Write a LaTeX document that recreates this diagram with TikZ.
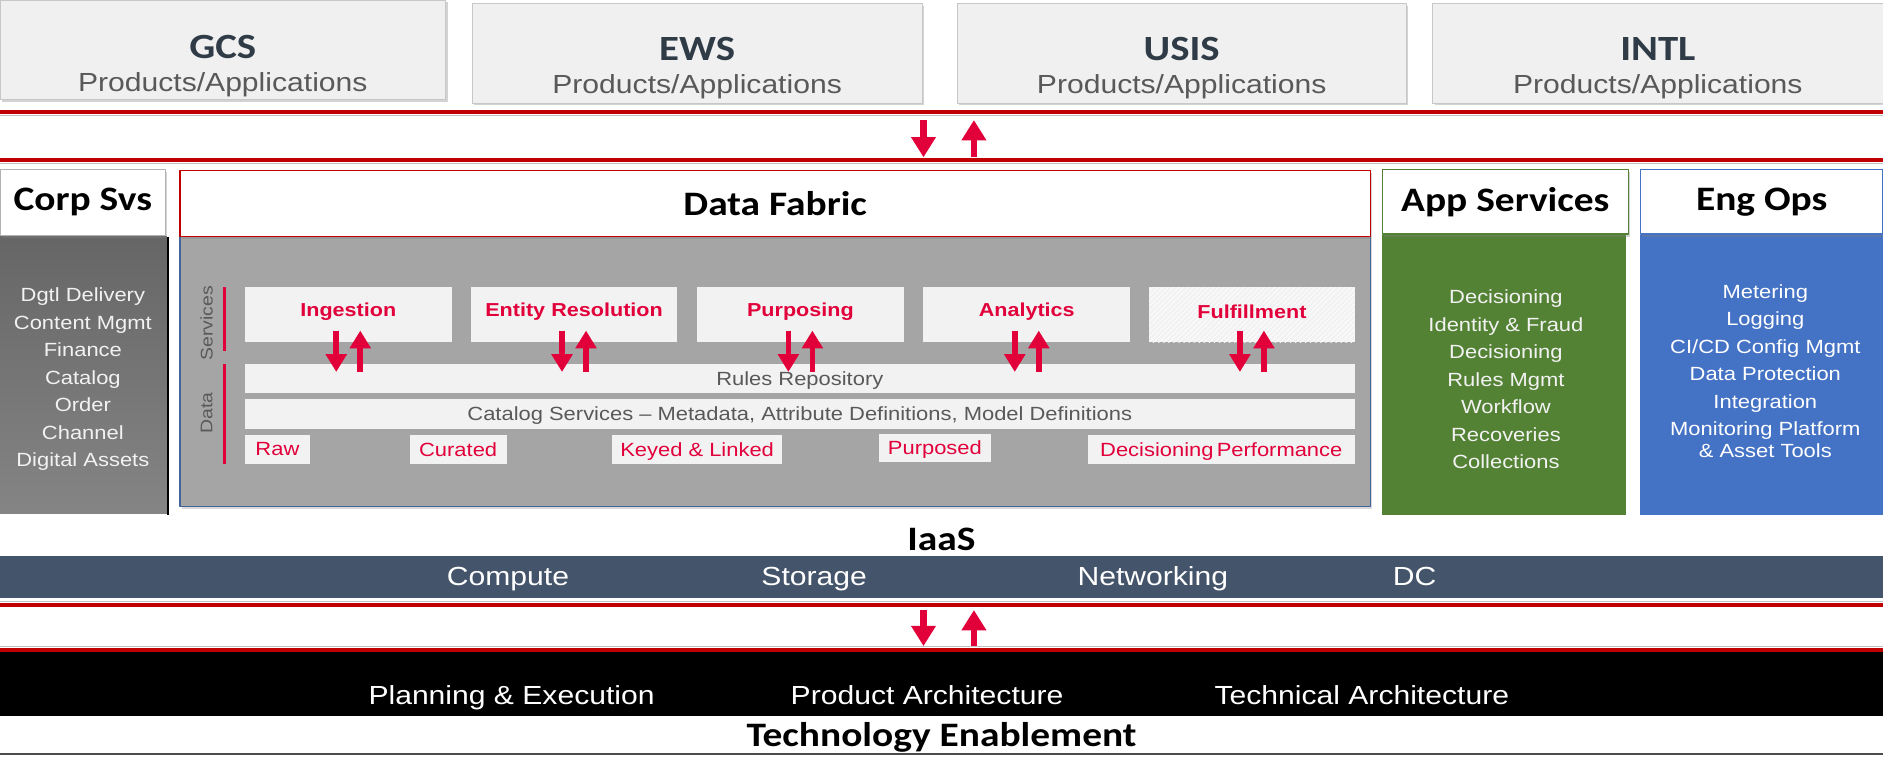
\documentclass[tikz,border=0pt]{standalone}
\usepackage{fontspec}
\setmainfont{Liberation Sans}[FakeStretch=1.15]
\newfontfamily\calfont{Carlito}[FakeStretch=1.15]
\usetikzlibrary{arrows.meta,calc,shadows,patterns}
\definecolor{darkred}{HTML}{C00000}
\definecolor{crim}{HTML}{E2003B}
\definecolor{slate}{HTML}{2F3B46}
\definecolor{txtgray}{HTML}{595959}
\definecolor{boxgray}{HTML}{F0F0F0}
\definecolor{fabgray}{HTML}{A5A5A5}
\definecolor{fabedge}{HTML}{41649A}
\definecolor{appgreen}{HTML}{548235}
\definecolor{engblue}{HTML}{4472C4}
\definecolor{iaasband}{HTML}{44546A}
\definecolor{lightbar}{HTML}{F2F2F2}
\newcommand\tpfont{\calfont\bfseries\fontsize{21}{24}\selectfont}
\newcommand\hdfont{\calfont\bfseries\fontsize{20.3}{24}\selectfont}
\newcommand\midfont{\fontsize{15.5}{18}\selectfont}
\newcommand\smfont{\fontsize{11.3}{16.3}\selectfont}
\newcommand\svfont{\bfseries\fontsize{11.1}{13}\selectfont}
\begin{document}
\begin{tikzpicture}[x=0.025cm,y=-0.025cm,line join=round,
    wh/.style 2 args={minimum width=#1*0.025cm,minimum height=#2*0.025cm},
    topbox/.style={draw=black!22,fill=boxgray,inner sep=0pt,
      drop shadow={shadow xshift=1.2pt,shadow yshift=-1.2pt,opacity=.35}},
    toptitle/.style={font=\tpfont,text=slate,inner sep=0pt},
    topsub/.style={font=\midfont,text=txtgray,inner sep=0pt},
    coltitle/.style={fill=white,font=\hdfont,inner sep=0pt,line width=.8pt,
      drop shadow={shadow xshift=1pt,shadow yshift=-1.5pt,opacity=.35}},
    colbody/.style={inner sep=0pt},
    items/.style={font=\smfont,align=center,inner sep=0pt},
    svcbox/.style={fill=lightbar,inner sep=0pt},
    svclabel/.style={font=\svfont,text=crim,inner sep=0pt},
    bar/.style={fill=lightbar,inner sep=0pt,font=\smfont,text=txtgray,text depth=0pt},
    stagebox/.style={fill=lightbar,inner sep=0pt,font=\smfont,text=crim,text depth=0pt},
    sidelabel/.style={rotate=90,font=\fontsize{10}{12}\selectfont,text=txtgray,inner sep=0pt},
    redrule/.style={draw=darkred,line width=2.4pt},
    ruleshade/.style={draw=black!25,line width=.6pt},
    bigflow/.style={draw=crim,line width=3.8pt,-{Triangle[width=14pt,length=12pt]}},
    flow/.style={draw=crim,line width=3.4pt,-{Triangle[width=12pt,length=10.5pt]}},
    bandtxt/.style={font=\midfont,text=white,inner sep=0pt,text depth=0pt}]
  \useasboundingbox (0,0) rectangle (1568,630);

  \node[topbox,wh={371}{83}] (gcs) at (185.5,41.5) {};
  \node[topbox,wh={375}{83}] (ews) at (580.5,44.5) {};
  \node[topbox,wh={374}{83}] (usis) at (984,44.5) {};
  \node[topbox,wh={375}{83}] (intl) at (1380.5,44.5) {};
  \node[toptitle] (gcs-t) at (185.5,39.5) {GCS};
  \node[toptitle] (ews-t) at (580.5,40.5) {EWS};
  \node[toptitle] (usis-t) at (984,40.5) {USIS};
  \node[toptitle] (intl-t) at (1380.5,40.5) {INTL};
  \node[topsub] (gcs-s) at (185.5,70.5) {Products/Applications};
  \node[topsub] (ews-s) at (580.5,72) {Products/Applications};
  \node[topsub] (usis-s) at (984,72) {Products/Applications};
  \node[topsub] (intl-s) at (1380.5,72) {Products/Applications};

  \draw[redrule] (0,93) -- (1568,93);
  \draw[ruleshade] (0,96) -- (1568,96);
  \draw[redrule] (0,133) -- (1568,133);
  \draw[ruleshade] (0,136) -- (1568,136);
  \coordinate (ta1) at (769,100);
  \coordinate (ta2) at (769,131);
  \coordinate (tb1) at (811,131);
  \coordinate (tb2) at (811,100);
  \draw[bigflow] (ta1) -- (ta2);
  \draw[bigflow] (tb1) -- (tb2);

  \node[colbody,top color=black!60,bottom color=black!48,wh={139}{231}] (corp-b) at (69.5,312.5) {};
  \draw[black,line width=1.2pt] (140,197) -- (140,429);
  \node[coltitle,draw=black!30,wh={138}{55}] (corp) at (69,168.5) {Corp Svs};
  \node[items,text=lightbar] (corp-i) at (69,316) {Dgtl Delivery\\Content Mgmt\\Finance\\Catalog\\Order\\Channel\\Digital Assets};

  \node[colbody,fill=fabgray,draw=fabedge,line width=.8pt,wh={991}{225},
    drop shadow={shadow xshift=1pt,shadow yshift=-1.5pt,opacity=.3}] (fab-b) at (645.5,309.5) {};
  \node[coltitle,draw=darkred,wh={991}{55}] (fab) at (645.5,169.5) {Data Fabric};

  \node[colbody,fill=appgreen,wh={203}{233}] (app-b) at (1252.5,312.5) {};
  \node[coltitle,draw=appgreen,wh={205}{54}] (app) at (1253.5,168) {App Services};
  \node[items,text=lightbar] (app-i) at (1254,316) {Decisioning\\Identity \& Fraud\\Decisioning\\Rules Mgmt\\Workflow\\Recoveries\\Collections};

  \node[colbody,fill=engblue,wh={202}{233}] (eng-b) at (1467,312.5) {};
  \node[coltitle,draw=engblue,wh={202}{54}] (eng) at (1467,168) {Eng Ops};
  \node[items,text=white] (eng-i) at (1470,309) {Metering\\Logging\\CI/CD Config Mgmt\\Data Protection\\Integration\\Monitoring Platform\\[-3.5pt]\& Asset Tools};

  \node[sidelabel] (svc) at (172,269) {Services};
  \node[sidelabel] (dat) at (172,344) {Data};
  \draw[crim,line width=1.6pt] (187,239) -- (187,292);
  \draw[crim,line width=1.6pt] (187,303) -- (187,386);

  \node[svcbox,wh={172}{46}] (ing) at (290,262) {};
  \node[svcbox,wh={172}{46}] (ent) at (478,262) {};
  \node[svcbox,wh={173}{46}] (pur) at (666.5,262) {};
  \node[svcbox,wh={172}{46}] (ana) at (855,262) {};
  \node[svcbox,wh={171}{46},postaction={pattern=north east lines,pattern color=white}] (ful) at (1042.5,262) {};
  \node[svclabel] (ing-l) at (290,259.5) {Ingestion};
  \node[svclabel] (ent-l) at (478,259.5) {Entity\,\,Resolution};
  \node[svclabel] (pur-l) at (666.5,259.5) {Purposing};
  \node[svclabel] (ana-l) at (855,259.5) {Analytics};
  \node[svclabel] (ful-l) at (1042.5,259.5) {Fulfillment};

  \node[bar,wh={924}{24}] (rules) at (666,315) {Rules Repository};
  \node[bar,wh={924}{25}] (cat) at (666,344.5) {Catalog Services -- Metadata, Attribute Definitions, Model Definitions};

  \draw[flow] ($(ing.south)+(-10,-10)$) -- ($(ing.south |- rules.north)+(-10,7)$);
  \draw[flow] ($(ing.south |- rules.north)+(10,7)$) -- ($(ing.south)+(10,-10)$);
  \draw[flow] ($(ent.south)+(-10,-10)$) -- ($(ent.south |- rules.north)+(-10,7)$);
  \draw[flow] ($(ent.south |- rules.north)+(10,7)$) -- ($(ent.south)+(10,-10)$);
  \draw[flow] ($(pur.south)+(-10,-10)$) -- ($(pur.south |- rules.north)+(-10,7)$);
  \draw[flow] ($(pur.south |- rules.north)+(10,7)$) -- ($(pur.south)+(10,-10)$);
  \draw[flow] ($(ana.south)+(-10,-10)$) -- ($(ana.south |- rules.north)+(-10,7)$);
  \draw[flow] ($(ana.south |- rules.north)+(10,7)$) -- ($(ana.south)+(10,-10)$);
  \draw[flow] ($(ful.south)+(-10,-10)$) -- ($(ful.south |- rules.north)+(-10,7)$);
  \draw[flow] ($(ful.south |- rules.north)+(10,7)$) -- ($(ful.south)+(10,-10)$);

  \node[stagebox,wh={54}{24}] (raw) at (231,374) {Raw};
  \node[stagebox,wh={81}{24}] (cur) at (381.5,374) {Curated};
  \node[stagebox,wh={141}{24}] (key) at (580.5,374) {Keyed \& Linked};
  \node[stagebox,wh={93}{24}] (prp) at (778.5,373) {Purposed};
  \node[stagebox,wh={222}{24}] (dec) at (1017,374) {Decisioning\,Performance};

  \node[font=\hdfont,inner sep=0pt] (iaas) at (784,449) {IaaS};
  \node[colbody,fill=iaasband,wh={1568}{35}] (band) at (784,480.5) {};
  \node[bandtxt] (comp) at (423,480) {Compute};
  \node[bandtxt] (stor) at (678,480) {Storage};
  \node[bandtxt] (net) at (960,480) {Networking};
  \node[bandtxt] (dc) at (1178,480) {DC};

  \draw[redrule] (0,503.5) -- (1568,503.5);
  \draw[ruleshade] (0,500.5) -- (1568,500.5);
  \draw[redrule] (0,541.5) -- (1568,541.5);
  \draw[ruleshade] (0,538.5) -- (1568,538.5);
  \coordinate (ba1) at (769,508);
  \coordinate (ba2) at (769,538);
  \coordinate (bb1) at (811,538);
  \coordinate (bb2) at (811,508);
  \draw[bigflow] (ba1) -- (ba2);
  \draw[bigflow] (bb1) -- (bb2);

  \node[colbody,fill=black,wh={1568}{53}] (tech-b) at (784,569.5) {};
  \node[bandtxt] (plan) at (426,579) {Planning \& Execution};
  \node[bandtxt] (prod) at (772,579) {Product Architecture};
  \node[bandtxt] (tecn) at (1134,579) {Technical Architecture};
  \node[font=\hdfont,inner sep=0pt] (tech) at (784,614) {Technology Enablement};
  \draw[black!70,line width=1pt] (0,628) -- (1568,628);
\end{tikzpicture}
\end{document}
